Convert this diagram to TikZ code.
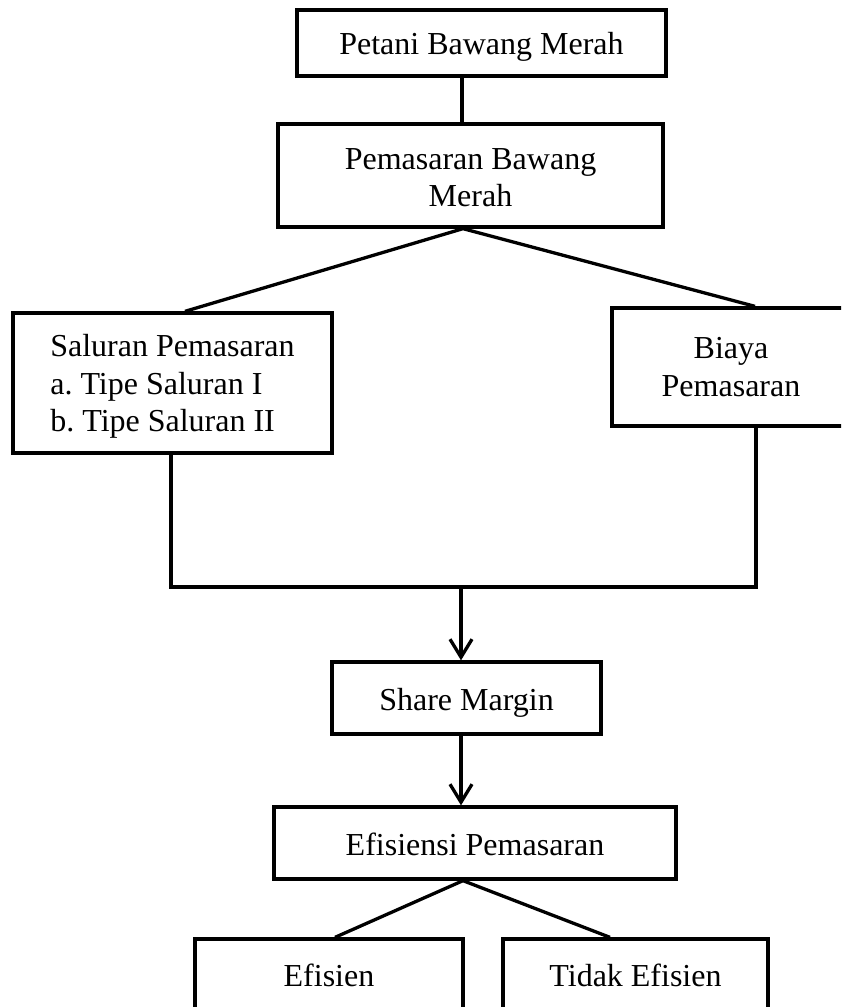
\documentclass[tikz,border=0pt]{standalone}
\usepackage{fontspec}
\setmainfont{Liberation Serif}
\usetikzlibrary{arrows.meta}
\frenchspacing
\begin{document}
\begin{tikzpicture}[x=1pt,y=-1pt,
  box/.style={draw, line width=3.3pt, rectangle, inner sep=0pt,
    font=\fontsize{32}{37.5}\selectfont, text height=24pt, text depth=0pt},
  conn/.style={line width=3.3pt},
  arr/.style={line width=3.3pt, -{Straight Barb[length=18pt,width=22pt]}}]
\useasboundingbox (0,0) rectangle (841,1007);
\clip (0,0) rectangle (841,1007);

\node[box, minimum width=369pt, minimum height=66pt, text height=22pt] (petani) at (481.5,43) {Petani Bawang Merah};
\node[box, minimum width=385pt, minimum height=103pt, text height=20pt, text depth=32.5pt] (pemasaran) at (470.5,175.5)
  {\begin{tabular}[t]{@{}c@{}}Pemasaran Bawang\\Merah\end{tabular}};
\node[box, minimum width=319pt, minimum height=140pt, text height=20pt, text depth=73pt] (saluran) at (172.5,383)
  {\begin{tabular}[t]{@{}l@{}}Saluran Pemasaran\\a. Tipe Saluran I\\b. Tipe Saluran II\end{tabular}};
\node[box, minimum width=238pt, minimum height=118pt, text height=20pt, text depth=36.5pt] (biaya) at (731,367)
  {\begin{tabular}[t]{@{}c@{}}Biaya\\Pemasaran\end{tabular}};
\node[box, minimum width=269pt, minimum height=72pt] (share) at (466.5,698) {Share Margin};
\node[box, minimum width=402pt, minimum height=72pt] (efis) at (475,843) {Efisiensi Pemasaran};
\node[box, minimum width=268pt, minimum height=72pt, text height=22pt] (efisien) at (329,975) {Efisien};
\node[box, minimum width=265pt, minimum height=72pt, text height=22pt] (tidak) at (635.5,975) {Tidak Efisien};

\coordinate (xa) at (462,0);
\coordinate (xb) at (463,0);
\coordinate (xs) at (185,0);
\coordinate (xbi) at (755,0);
\coordinate (xl) at (171,0);
\coordinate (xr) at (756,0);
\coordinate (J) at (461,587);
\coordinate (xe) at (335,0);
\coordinate (xt) at (610,0);

\draw[conn] (petani.south -| xa) -- (pemasaran.north -| xa);
\draw[conn] (saluran.north -| xs) -- (pemasaran.south -| xb) -- (biaya.north -| xbi);
\draw[conn] (saluran.south -| xl) -- (xl |- J) -- (xr |- J) -- (biaya.south -| xr);
\draw[arr] (J) -- (share.north -| J);
\draw[arr] (share.south -| J) -- (efis.north -| J);
\draw[conn] (efisien.north -| xe) -- (efis.south -| xb) -- (tidak.north -| xt);
\end{tikzpicture}
\end{document}
